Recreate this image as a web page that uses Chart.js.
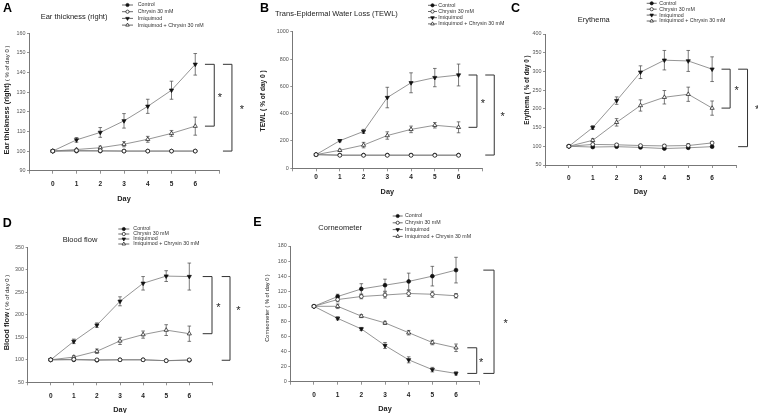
<!DOCTYPE html>
<html>
<head>
<meta charset="utf-8">
<script src="https://cdn.jsdelivr.net/npm/chart.js@4.4.1/dist/chart.umd.min.js"></script>
<style>
  body { margin: 0; background: #fff; width: 758px; height: 413px; position: relative; overflow: hidden; }
  canvas { position: absolute; }
</style>
</head>
<body>
<canvas id="cA"></canvas>
<canvas id="cB"></canvas>
<canvas id="cC"></canvas>
<canvas id="cD"></canvas>
<canvas id="cE"></canvas>
<script>
const days = [0, 1, 2, 3, 4, 5, 6];
const groups = ['Control', 'Chrysin 30 mM', 'Imiquimod', 'Imiquimod + Chrysin 30 mM'];

// A - ear thickness (% of day 0)
const earTicks = [90, 100, 110, 120, 130, 140, 150, 160];
const earControl = [100, 100, 100, 100, 100, 100, 100];
const earChrysin = [100, 100.3, 100.2, 100, 100, 100, 100];
const earImiquimod = [100, 105.7, 109.5, 115.4, 122.8, 131, 144.2];
const earImiChrysin = [100, 100.8, 101.7, 103.5, 106, 109, 112.7];
const earControlSd = [0, 0.3, 0.3, 0.3, 0.3, 0.3, 0.3];
const earChrysinSd = [0, 0.4, 0.4, 0.3, 0.3, 0.3, 0.3];
const earImiquimodSd = [0, 1.2, 2.5, 3.7, 3.6, 4.6, 5.5];
const earImiChrysinSd = [0, 0.5, 0.8, 1.3, 1.5, 1.5, 4.6];

// B - TEWL
const tewlTicks = [0, 200, 400, 600, 800, 1000];
const tewlControl = [100, 97, 97, 97, 97, 97, 97];
const tewlChrysin = [100, 95, 95, 95, 95, 95, 95];
const tewlImiquimod = [100, 202, 270, 518, 626, 664, 683];
const tewlImiChrysin = [100, 132, 170, 240, 285, 315, 300];
const tewlControlSd = [0, 4, 4, 4, 4, 4, 4];
const tewlChrysinSd = [0, 4, 4, 4, 4, 4, 4];
const tewlImiquimodSd = [0, 8, 15, 75, 73, 67, 80];
const tewlImiChrysinSd = [0, 8, 20, 27, 24, 20, 40];

// C - erythema
const eryTicks = [50, 100, 150, 200, 250, 300, 350, 400];
const eryControl = [100, 98, 99, 97, 94, 96, 99];
const eryChrysin = [100, 105, 104, 102, 101, 102, 109];
const eryImiquimod = [100, 150, 222, 298, 330, 328, 306];
const eryImiChrysin = [100, 116, 164, 209, 231, 239, 202];
const eryControlSd = [0, 2, 2, 2, 2, 2, 2];
const eryChrysinSd = [0, 3, 3, 2, 4, 5, 3];
const eryImiquimodSd = [0, 5, 10, 17, 26, 28, 33];
const eryImiChrysinSd = [0, 4, 10, 15, 18, 19, 19];

// D - blood flow
const bloodTicks = [50, 100, 150, 200, 250, 300, 350];
const bloodControl = [100, 100, 99, 100, 100, 98, 99];
const bloodChrysin = [100, 101, 100, 100, 100, 98, 100];
const bloodImiquimod = [100, 141, 177, 230, 270, 286, 285];
const bloodImiChrysin = [100, 106, 119, 142, 156, 166, 158];
const bloodControlSd = [0, 1, 1, 1, 1, 1, 1];
const bloodChrysinSd = [0, 2, 1, 1, 1, 1, 2];
const bloodImiquimodSd = [0, 5, 5, 10, 15, 12, 30];
const bloodImiChrysinSd = [0, 3, 5, 8, 8, 12, 17];

// E - corneometer
const cornTicks = [0, 20, 40, 60, 80, 100, 120, 140, 160, 180];
const cornControl = [100, 113, 123, 128, 133, 140, 148];
const cornChrysin = [100, 109, 113, 115, 117, 116, 114];
const cornImiquimod = [100, 84, 70, 48, 29, 16, 11];
const cornImiChrysin = [100, 100, 87, 78, 65, 52, 45];
const cornControlSd = [0, 3, 7, 8, 11, 13, 17];
const cornChrysinSd = [0, 3, 3, 4, 4, 4, 3];
const cornImiquimodSd = [0, 2, 2, 4, 4, 3, 2];
const cornImiChrysinSd = [0, 3, 2, 2, 3, 3, 5];

const FONT = "'Liberation Sans', Arial, sans-serif";
const marks = [
  { style: 'circle', rot: 0, fill: '#111', r: 1.9 },
  { style: 'circle', rot: 0, fill: '#fff', r: 1.9 },
  { style: 'triangle', rot: 180, fill: '#111', r: 2.4 },
  { style: 'triangle', rot: 0, fill: '#fff', r: 2.4 }
];
const drawOrder = [1, 0, 2, 3];

function drawMark(ctx, m, x, y, r) {
  ctx.beginPath();
  if (m.style === 'circle') {
    ctx.arc(x, y, r, 0, Math.PI * 2);
  } else {
    for (let k = 0; k < 3; k++) {
      const a = m.rot * Math.PI / 180 + k * 2 * Math.PI / 3;
      const px = x + Math.sin(a) * r, py = y - Math.cos(a) * r;
      if (k) ctx.lineTo(px, py); else ctx.moveTo(px, py);
    }
    ctx.closePath();
  }
  ctx.fillStyle = m.fill;
  ctx.fill();
  ctx.lineWidth = 0.7;
  ctx.strokeStyle = '#111';
  ctx.stroke();
}

function decor(p) {
  return {
    id: 'decor' + p.id,
    beforeDatasetsDraw(chart) {
      const ctx = chart.ctx, xs = chart.scales.x, ys = chart.scales.y;
      ctx.save();
      ctx.strokeStyle = '#444';
      ctx.lineWidth = 0.7;
      p.series.forEach((vals, i) => {
        days.forEach((d, j) => {
          const e = p.sd[i][j];
          if (!e) return;
          const x = xs.getPixelForValue(d);
          const y1 = ys.getPixelForValue(vals[j] + e), y2 = ys.getPixelForValue(vals[j] - e);
          ctx.beginPath();
          ctx.moveTo(x, y1); ctx.lineTo(x, y2);
          ctx.moveTo(x - 1.8, y1); ctx.lineTo(x + 1.8, y1);
          ctx.moveTo(x - 1.8, y2); ctx.lineTo(x + 1.8, y2);
          ctx.stroke();
        });
      });
      ctx.restore();
    },
    afterDraw(chart) {
      const ctx = chart.ctx, xs = chart.scales.x, ys = chart.scales.y;
      const last = days.length - 1;
      const x6 = xs.getPixelForValue(days[last]);
      ctx.save();
      // significance brackets
      ctx.strokeStyle = '#333';
      ctx.lineWidth = 1;
      ctx.fillStyle = '#222';
      ctx.font = '11px ' + FONT;
      ctx.textAlign = 'center';
      ctx.textBaseline = 'middle';
      p.brackets.forEach(b => {
        const ya = ys.getPixelForValue(p.series[b.a][last]);
        const yb = ys.getPixelForValue(p.series[b.b][last]);
        ctx.beginPath();
        ctx.moveTo(x6 + b.x1, ya); ctx.lineTo(x6 + b.x2, ya);
        ctx.lineTo(x6 + b.x2, yb); ctx.lineTo(x6 + b.x1, yb);
        ctx.stroke();
        ctx.fillText('*', x6 + b.sx, (ya + yb) / 2 + 2.4 + b.sy);
      });
      // page coordinates from here
      ctx.translate(-p.box.x, -p.box.y);
      // panel letter
      ctx.textAlign = 'left';
      ctx.textBaseline = 'alphabetic';
      ctx.fillStyle = '#000';
      ctx.font = 'bold 12.5px ' + FONT;
      ctx.fillText(p.letter, p.letterAt[0], p.letterAt[1]);
      // title
      ctx.fillStyle = '#222';
      ctx.font = '7.5px ' + FONT;
      ctx.textBaseline = 'middle';
      ctx.fillText(p.title, p.titleAt[0], p.titleAt[1]);
      // legend
      const lg = p.legend;
      groups.forEach((g, i) => {
        const y = lg.y + i * lg.dy;
        ctx.strokeStyle = '#444';
        ctx.lineWidth = 0.8;
        ctx.beginPath();
        ctx.moveTo(lg.x, y); ctx.lineTo(lg.x + lg.len, y);
        ctx.stroke();
        drawMark(ctx, marks[i], lg.x + lg.len / 2, y, marks[i].r * 0.85);
        ctx.fillStyle = '#333';
        ctx.font = '5.3px ' + FONT;
        ctx.textBaseline = 'middle';
        ctx.fillText(g, lg.tx, y);
      });
      // x axis title
      const ca = chart.chartArea;
      ctx.fillStyle = '#222';
      ctx.font = 'bold 7.3px ' + FONT;
      ctx.textAlign = 'center';
      ctx.fillText('Day', p.box.x + (ca.left + ca.right) / 2, p.dayY);
      // y axis title, rotated, mixed fonts
      ctx.translate(p.yTitleAt[0], p.yTitleAt[1]);
      ctx.rotate(-Math.PI / 2);
      ctx.textAlign = 'left';
      ctx.textBaseline = 'alphabetic';
      let total = 0;
      p.yTitle.forEach(pt => { ctx.font = pt.f + ' ' + FONT; total += ctx.measureText(pt.t).width; });
      let cx = -total / 2;
      p.yTitle.forEach(pt => {
        ctx.font = pt.f + ' ' + FONT;
        ctx.fillText(pt.t, cx, 2.6);
        cx += ctx.measureText(pt.t).width;
      });
      ctx.restore();
    }
  };
}

function makePanel(p) {
  const cv = document.getElementById(p.id);
  cv.width = p.box.w; cv.height = p.box.h;
  cv.style.left = p.box.x + 'px'; cv.style.top = p.box.y + 'px';
  cv.style.width = p.box.w + 'px'; cv.style.height = p.box.h + 'px';
  const yMin = p.yTicks[0], yMax = p.yTicks[p.yTicks.length - 1];
  const datasets = p.series.map((vals, i) => ({
    label: groups[i],
    data: days.map((d, j) => ({ x: d, y: vals[j] })),
    order: drawOrder[i],
    borderColor: '#7a7a7a',
    borderWidth: 0.8,
    pointStyle: marks[i].style,
    pointRotation: marks[i].rot,
    pointRadius: marks[i].r,
    pointBackgroundColor: marks[i].fill,
    pointBorderColor: '#111',
    pointBorderWidth: 0.7,
    tension: 0
  }));
  new Chart(cv, {
    type: 'line',
    data: { datasets },
    options: {
      responsive: false,
      animation: false,
      devicePixelRatio: 1,
      layout: { padding: { left: 0, top: p.area.t - p.box.y, right: p.box.x + p.box.w - p.area.r, bottom: 0 } },
      plugins: { legend: { display: false }, tooltip: { enabled: false } },
      scales: {
        x: {
          type: 'linear',
          min: days[0] - 1,
          max: days[days.length - 1] + 1,
          afterFit: s => { s.height = p.box.y + p.box.h - p.area.b; },
          ticks: {
            stepSize: 1, autoSkip: false, maxRotation: 0, padding: p.xPad,
            color: '#222', font: { family: FONT, size: 6.5, weight: 'bold' },
            callback: v => days.includes(v) ? String(v) : ''
          },
          grid: { drawOnChartArea: false, drawTicks: true, tickLength: 3, color: '#777', lineWidth: 0.8 },
          border: { color: '#777', width: 1 }
        },
        y: {
          min: yMin,
          max: yMax,
          afterFit: s => { s.width = p.area.l - p.box.x; },
          ticks: {
            stepSize: p.yTicks[1] - p.yTicks[0], padding: 1.5,
            color: '#555', font: { family: FONT, size: 5.4 },
            callback: v => p.yTicks.includes(v) ? String(v) : ''
          },
          grid: { drawOnChartArea: false, drawTicks: true, tickLength: 2, color: '#777', lineWidth: 0.8 },
          border: { color: '#777', width: 1 }
        }
      }
    },
    plugins: [decor(p)]
  });
}

makePanel({
  id: 'cA', box: { x: 0, y: 0, w: 250, h: 205 }, area: { l: 29, r: 219, t: 33.3, b: 170.7 },
  yTicks: earTicks,
  series: [earControl, earChrysin, earImiquimod, earImiChrysin],
  sd: [earControlSd, earChrysinSd, earImiquimodSd, earImiChrysinSd],
  xPad: 6.6, letter: 'A', letterAt: [3, 12.3],
  title: 'Ear thickness (right)', titleAt: [40.7, 16.7],
  legend: { x: 122, len: 11, tx: 137.7, y: 5, dy: 6.7 },
  yTitle: [{ t: 'Ear thickness (right)', f: 'bold 7.4px' }, { t: ' ( % of day 0 )', f: '6px' }],
  yTitleAt: [6.7, 100], dayY: 199,
  brackets: [{ a: 2, b: 3, x1: 9.7, x2: 19, sx: 24.7, sy: 0 }, { a: 2, b: 0, x1: 27.7, x2: 36.7, sx: 46.7, sy: 0 }]
});

makePanel({
  id: 'cB', box: { x: 250, y: 0, w: 260, h: 205 }, area: { l: 292.3, r: 482.3, t: 31.7, b: 168.3 },
  yTicks: tewlTicks,
  series: [tewlControl, tewlChrysin, tewlImiquimod, tewlImiChrysin],
  sd: [tewlControlSd, tewlChrysinSd, tewlImiquimodSd, tewlImiChrysinSd],
  xPad: 1.8, letter: 'B', letterAt: [260, 12.3],
  title: 'Trans-Epidermal Water Loss (TEWL)', titleAt: [275, 14.3],
  legend: { x: 428, len: 9, tx: 438.3, y: 5.3, dy: 6.2 },
  yTitle: [{ t: 'TEWL ( % of day 0 )', f: 'bold 6.6px' }],
  yTitleAt: [262.7, 100.8], dayY: 191.7,
  brackets: [{ a: 2, b: 3, x1: 10, x2: 18.4, sx: 24.4, sy: 0 }, { a: 2, b: 0, x1: 26.7, x2: 35.7, sx: 44, sy: 0 }]
});

makePanel({
  id: 'cC', box: { x: 505, y: 0, w: 253, h: 205 }, area: { l: 545, r: 736, t: 34, b: 165 },
  yTicks: eryTicks,
  series: [eryControl, eryChrysin, eryImiquimod, eryImiChrysin],
  sd: [eryControlSd, eryChrysinSd, eryImiquimodSd, eryImiChrysinSd],
  xPad: 6.3, letter: 'C', letterAt: [511, 12.3],
  title: 'Erythema', titleAt: [577.7, 20],
  legend: { x: 646.7, len: 10, tx: 659.3, y: 3.3, dy: 5.9 },
  yTitle: [{ t: 'Erythema ( % of day 0 )', f: 'bold 6.3px' }],
  yTitleAt: [526, 90], dayY: 191.7,
  brackets: [{ a: 2, b: 3, x1: 9.4, x2: 18, sx: 24.4, sy: 0 }, { a: 2, b: 0, x1: 26, x2: 35.4, sx: 45, sy: 0 }]
});

makePanel({
  id: 'cD', box: { x: 0, y: 205, w: 250, h: 208 }, area: { l: 27.6, r: 212.4, t: 247.3, b: 382.3 },
  yTicks: bloodTicks,
  series: [bloodControl, bloodChrysin, bloodImiquimod, bloodImiChrysin],
  sd: [bloodControlSd, bloodChrysinSd, bloodImiquimodSd, bloodImiChrysinSd],
  xPad: 6.6, letter: 'D', letterAt: [2.7, 226.7],
  title: 'Blood flow', titleAt: [62.7, 240],
  legend: { x: 118.3, len: 11, tx: 133.3, y: 229, dy: 5 },
  yTitle: [{ t: 'Blood flow', f: 'bold 7.5px' }, { t: ' ( % of day 0 )', f: '6px' }],
  yTitleAt: [6, 312.5], dayY: 410,
  brackets: [{ a: 2, b: 3, x1: 13.4, x2: 22.7, sx: 29, sy: 0 }, { a: 2, b: 0, x1: 32.4, x2: 40.7, sx: 49, sy: -10 }]
});

makePanel({
  id: 'cE', box: { x: 250, y: 205, w: 310, h: 208 }, area: { l: 290.3, r: 479.7, t: 246, b: 381.7 },
  yTicks: cornTicks,
  series: [cornControl, cornChrysin, cornImiquimod, cornImiChrysin],
  sd: [cornControlSd, cornChrysinSd, cornImiquimodSd, cornImiChrysinSd],
  xPad: 6.6, letter: 'E', letterAt: [253.3, 226.3],
  title: 'Corneometer', titleAt: [318.3, 227.7],
  legend: { x: 392.7, len: 10, tx: 405, y: 216, dy: 6.8 },
  yTitle: [{ t: 'Corneometer ( % of day 0 )', f: '5.6px' }],
  yTitleAt: [266.7, 308], dayY: 409.3,
  brackets: [{ a: 3, b: 2, x1: 11.3, x2: 20.7, sx: 25, sy: 0 }, { a: 0, b: 2, x1: 27.3, x2: 38, sx: 49.7, sy: 0 }]
});
</script>
</body>
</html>
